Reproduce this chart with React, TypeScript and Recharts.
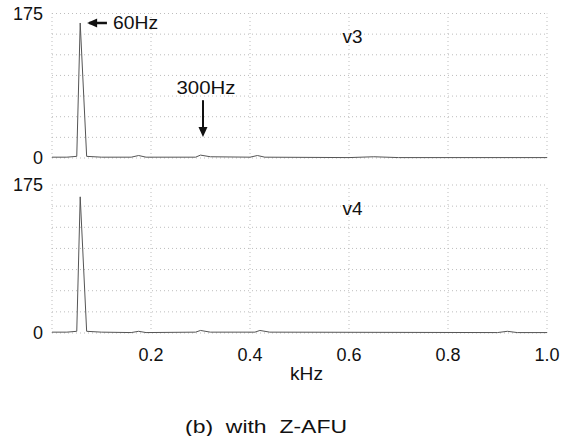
import React from "react";
import { LineChart, Line, XAxis, YAxis, ReferenceLine, ReferenceDot } from "recharts";

const FONT = '"Liberation Sans", Arial, sans-serif';

// frequency in kHz
const freqV3 = [0, 0.03, 0.05, 0.057, 0.07, 0.1, 0.16, 0.175, 0.19, 0.29, 0.3, 0.32, 0.4, 0.415, 0.43, 0.6, 0.65, 0.7, 1.0];
const valV3 = [1, 1, 2, 163.5, 2, 1, 1, 3, 1, 1, 3.5, 1.5, 1, 3, 1, 0.5, 1.5, 0.5, 0.5];

const freqV4 = [0, 0.03, 0.05, 0.057, 0.07, 0.1, 0.16, 0.175, 0.19, 0.29, 0.3, 0.32, 0.41, 0.42, 0.44, 0.9, 0.92, 0.94, 1.0];
const valV4 = [1, 1, 2, 161, 2, 1, 0.5, 2, 0.5, 1, 3, 1, 1, 3, 1, 0.5, 2, 0.5, 0.5];

const yTicks = [0, 175];
const xTicks = [0.2, 0.4, 0.6, 0.8, 1.0];
const gridY = [0, 25, 50, 75, 100, 125, 150, 175];
const gridX = [0, 0.2, 0.4, 0.6, 0.8, 1.0];

const dataV3 = freqV3.map((f, i) => ({ f, v: valV3[i] }));
const dataV4 = freqV4.map((f, i) => ({ f, v: valV4[i] }));

const GRID = "#bdbdbd";

const grid = () => [
  ...gridY.map((y) => (
    <ReferenceLine key={"gy" + y} y={y} stroke={GRID} strokeDasharray="1 3" strokeWidth={1} />
  )),
  ...gridX.map((x) => (
    <ReferenceLine key={"gx" + x} x={x} stroke={GRID} strokeDasharray="1 3" strokeWidth={1} />
  )),
];

const textShape = (txt: string, anchor: string, len?: number) => (p: any) => (
  <text
    x={p.cx}
    y={p.cy}
    textAnchor={anchor}
    dominantBaseline="central"
    fontSize={18}
    fontFamily={FONT}
    fill="#111"
    textLength={len}
    lengthAdjust="spacingAndGlyphs"
  >
    {txt}
  </text>
);

const headLeft = (p: any) => (
  <polygon points={`${p.cx},${p.cy} ${p.cx + 10},${p.cy - 4.5} ${p.cx + 10},${p.cy + 4.5}`} fill="#111" />
);
const headDown = (p: any) => (
  <polygon points={`${p.cx},${p.cy} ${p.cx - 4.5},${p.cy - 10} ${p.cx + 4.5},${p.cy - 10}`} fill="#111" />
);

const yAxisProps = {
  type: "number" as const,
  domain: [0, 175],
  ticks: yTicks,
  interval: 0 as const,
  width: 52,
  axisLine: false,
  tickLine: false,
  tickSize: 0,
  tickMargin: 9,
  tick: { fontSize: 18, fill: "#111", fontFamily: FONT },
};

export default function App() {
  return (
    <div style={{ position: "absolute", left: 0, top: 0, width: 563, height: 436, background: "#fff", fontFamily: FONT }}>
      <div style={{ position: "absolute", left: 0, top: 0 }}>
        <LineChart width={563} height={175} data={dataV3} margin={{ top: 13.5, right: 16, bottom: 17, left: 0 }}>
          <XAxis dataKey="f" type="number" domain={[0, 1]} hide />
          <YAxis {...yAxisProps} />
          {grid()}
          <Line dataKey="v" stroke="#555" strokeWidth={1} dot={false} type="linear" isAnimationActive={false} />
          <ReferenceLine segment={[{ x: 0.075, y: 163.5 }, { x: 0.111, y: 163.5 }]} stroke="#111" strokeWidth={2.5} />
          <ReferenceDot x={0.071} y={163.5} shape={headLeft} />
          <ReferenceDot x={0.1235} y={163.5} shape={textShape("60Hz", "start", 45)} />
          <ReferenceDot x={0.311} y={84.5} shape={textShape("300Hz", "middle", 59)} />
          <ReferenceLine segment={[{ x: 0.305, y: 70 }, { x: 0.305, y: 31 }]} stroke="#111" strokeWidth={2} />
          <ReferenceDot x={0.305} y={25.5} shape={headDown} />
          <ReferenceDot x={0.607} y={146.5} shape={textShape("v3", "middle", 20)} />
        </LineChart>
      </div>
      <div style={{ position: "absolute", left: 0, top: 170 }}>
        <LineChart width={563} height={200} data={dataV4} margin={{ top: 15, right: 16, bottom: 0, left: 0 }}>
          <XAxis
            dataKey="f"
            type="number"
            domain={[0, 1]}
            ticks={xTicks}
            interval={0}
            height={37}
            axisLine={false}
            tickLine={false}
            tickSize={0}
            tickMargin={15}
            tickFormatter={(v: number) => v.toFixed(1)}
            tick={{ fontSize: 18, fill: "#111", fontFamily: FONT }}
          />
          <YAxis {...yAxisProps} />
          {grid()}
          <Line dataKey="v" stroke="#555" strokeWidth={1} dot={false} type="linear" isAnimationActive={false} />
          <ReferenceDot x={0.607} y={146.5} shape={textShape("v4", "middle", 20)} />
        </LineChart>
      </div>
      <svg width={563} height={436} style={{ position: "absolute", left: 0, top: 0, pointerEvents: "none" }}>
        <text x={290} y={380} fontSize={18} fontFamily={FONT} fill="#111" textLength={33} lengthAdjust="spacingAndGlyphs">
          kHz
        </text>
        <text
          x={185}
          y={433}
          fontSize={18}
          fontFamily={FONT}
          fill="#111"
          style={{ whiteSpace: "pre" }}
          xmlSpace="preserve"
          textLength={162}
          lengthAdjust="spacingAndGlyphs"
        >
          (b)  with  Z-AFU
        </text>
      </svg>
    </div>
  );
}
